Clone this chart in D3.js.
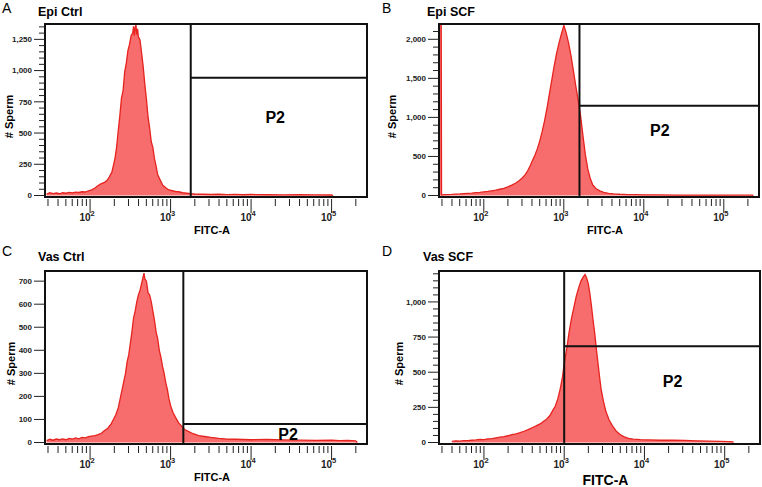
<!DOCTYPE html>
<html><head><meta charset="utf-8">
<script src="https://cdn.jsdelivr.net/npm/d3@7"></script>
<style>body{margin:0;background:#fff}</style>
</head><body>
<svg id="chart" width="762" height="487"></svg>
<script>
// ---- data: [log10(FITC-A), # sperm] ----
const epiCtrl = [[1.46,12],[1.50,22],[1.54,15],[1.58,20],[1.62,14],[1.66,22],[1.70,18],[1.74,25],[1.78,20],[1.82,27],[1.86,24],[1.90,30],[1.94,28],[1.98,38],[2.02,45],[2.06,60],[2.10,80],[2.14,95],[2.18,105],[2.21,120],[2.24,150],[2.27,185],[2.29,240],[2.31,300],[2.33,390],[2.35,520],[2.37,640],[2.39,780],[2.41,840],[2.43,990],[2.45,1060],[2.47,1160],[2.49,1210],[2.51,1280],[2.53,1300],[2.54,1355],[2.55,1280],[2.56,1345],[2.57,1365],[2.58,1290],[2.59,1335],[2.60,1270],[2.62,1245],[2.64,1140],[2.66,1030],[2.68,890],[2.70,770],[2.72,630],[2.74,540],[2.76,430],[2.78,385],[2.80,295],[2.82,235],[2.84,165],[2.87,125],[2.90,85],[2.94,62],[2.98,44],[3.02,38],[3.06,32],[3.10,30],[3.15,22],[3.20,18],[3.25,14],[3.30,12],[3.40,10],[3.50,8],[3.60,10],[3.70,7],[3.80,9],[3.90,6],[4.00,8],[4.20,6],[4.40,5],[4.60,6],[4.80,5],[5.00,4],[5.02,0]];
const epiSCF = [[1.44,3000],[1.466,3000],[1.472,6],[1.50,10],[1.55,12],[1.60,14],[1.65,18],[1.70,20],[1.75,24],[1.80,28],[1.85,30],[1.90,36],[1.95,40],[2.00,46],[2.05,52],[2.10,60],[2.15,68],[2.20,80],[2.25,92],[2.30,110],[2.35,132],[2.40,160],[2.44,190],[2.48,225],[2.52,270],[2.55,320],[2.58,380],[2.61,450],[2.64,520],[2.67,600],[2.70,700],[2.73,820],[2.76,960],[2.79,1120],[2.82,1300],[2.85,1480],[2.88,1660],[2.91,1820],[2.94,1950],[2.97,2070],[2.99,2140],[3.00,2180],[3.01,2150],[3.03,2080],[3.06,1950],[3.09,1790],[3.12,1600],[3.15,1400],[3.18,1220],[3.21,1020],[3.24,760],[3.27,520],[3.30,340],[3.33,220],[3.36,140],[3.40,90],[3.45,60],[3.50,40],[3.56,28],[3.62,22],[3.70,16],[3.80,12],[3.90,10],[4.00,9],[4.20,7],[4.40,6],[4.60,6],[4.80,5],[5.00,5],[5.20,4],[5.35,4],[5.37,0]];
const vasCtrl = [[1.46,8],[1.50,14],[1.54,10],[1.58,15],[1.62,12],[1.66,16],[1.70,12],[1.74,18],[1.78,15],[1.82,20],[1.86,16],[1.90,22],[1.94,20],[1.98,25],[2.02,28],[2.06,30],[2.10,34],[2.14,40],[2.18,52],[2.22,62],[2.26,80],[2.29,100],[2.32,120],[2.35,150],[2.38,200],[2.41,250],[2.44,300],[2.46,350],[2.48,380],[2.50,430],[2.52,480],[2.54,540],[2.56,570],[2.58,610],[2.60,640],[2.62,660],[2.64,690],[2.66,720],[2.67,735],[2.68,710],[2.70,700],[2.72,650],[2.74,640],[2.76,610],[2.78,570],[2.80,530],[2.82,480],[2.84,450],[2.86,400],[2.88,370],[2.90,330],[2.92,300],[2.94,260],[2.96,230],[2.98,190],[3.00,160],[3.03,130],[3.06,110],[3.10,85],[3.14,70],[3.18,55],[3.22,48],[3.28,38],[3.35,30],[3.42,26],[3.50,22],[3.60,18],[3.70,15],[3.80,14],[3.90,13],[4.00,12],[4.20,13],[4.40,11],[4.60,10],[4.80,9],[5.00,10],[5.10,8],[5.20,9],[5.30,7],[5.32,0]];
const vasSCF = [[1.60,8],[1.65,12],[1.70,10],[1.75,14],[1.80,13],[1.85,16],[1.90,18],[1.95,22],[2.00,20],[2.05,26],[2.10,28],[2.15,33],[2.20,38],[2.25,42],[2.30,48],[2.35,56],[2.40,62],[2.45,70],[2.50,80],[2.55,92],[2.60,105],[2.65,118],[2.70,132],[2.74,150],[2.78,165],[2.82,190],[2.86,230],[2.89,260],[2.92,310],[2.95,380],[2.98,470],[3.00,560],[3.03,660],[3.06,780],[3.09,880],[3.12,960],[3.15,1040],[3.18,1100],[3.21,1150],[3.24,1180],[3.26,1195],[3.28,1170],[3.30,1130],[3.32,1060],[3.34,970],[3.36,870],[3.38,780],[3.40,670],[3.42,570],[3.44,470],[3.46,380],[3.49,290],[3.52,220],[3.56,160],[3.60,120],[3.65,80],[3.70,55],[3.75,40],[3.80,30],[3.86,24],[3.95,20],[4.05,18],[4.20,16],[4.35,17],[4.50,15],[4.65,12],[4.80,10],[4.95,8],[5.05,6],[5.10,5],[5.11,0]];

const yTicksEpiCtrl = [0,250,500,750,1000,1250];
const yTicksEpiSCF = [0,500,1000,1500,2000];
const yTicksVasCtrl = [0,100,200,300,400,500,600,700];
const yTicksVasSCF = [0,250,500,750,1000];
const xMajorTicks = [1e2,1e3,1e4,1e5];
const xTickExponents = ["2","3","4","5"];
const xMinorTicks = [30,40,50,60,70,80,90,200,300,400,500,600,700,800,900,2000,3000,4000,5000,6000,7000,8000,9000,20000,30000,40000,50000,60000,70000,80000,90000,200000];
const panelLetters = ["A","B","C","D"];
const panelTitles = ["Epi Ctrl","Epi SCF","Vas Ctrl","Vas SCF"];
const gateX = [1780,1570,1440,1000];
const gateY = [942,1149,80,684];
const yMaxes = [1373,2196,744,1220];
const yMinorSteps = [50,100,0,50];

// ---- layout ----
const FONT = "'Liberation Sans', Arial, Helvetica, sans-serif";
const layout = [
  {left:45, right:367, top:24, bottom:197, letter:[2,13], title:[38,16], ylab:9, p2:[4.30,627], xlabSize:11},
  {left:439, right:759, top:24, bottom:197, letter:[382,13], title:[427,16], ylab:392, p2:[4.20,837], xlabSize:11},
  {left:45, right:367, top:271, bottom:444, letter:[2,256], title:[38,261], ylab:11, p2:[4.46,36], xlabSize:11},
  {left:439, right:760, top:271, bottom:444, letter:[382,256], title:[423,261], ylab:399, p2:[4.35,436], xlabSize:14}
];
const datasets = [epiCtrl, epiSCF, vasCtrl, vasSCF];
const yTickSets = [yTicksEpiCtrl, yTicksEpiSCF, yTicksVasCtrl, yTicksVasSCF];

const svg = d3.select("#chart");
const defs = svg.append("defs");

layout.forEach((L, i) => {
  const g = svg.append("g");
  const x = d3.scaleLog().domain([Math.pow(10,1.44), Math.pow(10,5.44)]).range([L.left, L.right]);
  const y = d3.scaleLinear().domain([0, yMaxes[i]]).range([L.bottom - 1.5, L.top]);

  defs.append("clipPath").attr("id","clip"+i).append("rect")
    .attr("x",L.left).attr("y",L.top).attr("width",L.right-L.left).attr("height",L.bottom-L.top);

  const area = d3.area().x(d => x(Math.pow(10,d[0]))).y0(y(0)).y1(d => y(d[1]));
  const line = d3.line().x(d => x(Math.pow(10,d[0]))).y(d => y(d[1]));
  const hg = g.append("g").attr("clip-path","url(#clip"+i+")");
  hg.append("path").datum(datasets[i]).attr("d",area).attr("fill","#f76c6c");
  hg.append("path").datum(datasets[i]).attr("d",line).attr("fill","none").attr("stroke","#e5231f").attr("stroke-width",1.3);

  // box
  g.append("rect").attr("x",L.left).attr("y",L.top).attr("width",L.right-L.left).attr("height",L.bottom-L.top)
    .attr("fill","none").attr("stroke","#111").attr("stroke-width",2);

  // gate lines
  const gx = x(gateX[i]), gy = y(gateY[i]);
  g.append("line").attr("x1",gx).attr("x2",gx).attr("y1",L.top).attr("y2",L.bottom).attr("stroke","#111").attr("stroke-width",2);
  g.append("line").attr("x1",gx).attr("x2",L.right).attr("y1",gy).attr("y2",gy).attr("stroke","#111").attr("stroke-width",2);
  g.append("text").attr("x",x(Math.pow(10,L.p2[0]))).attr("y",y(L.p2[1])).attr("text-anchor","middle")
    .attr("dominant-baseline","central").attr("font-family",FONT).attr("font-weight","bold").attr("font-size",16).text("P2");

  // y axis
  const yMajor = yTickSets[i];
  if (yMinorSteps[i] > 0) {
    const minors = d3.range(0, yMaxes[i], yMinorSteps[i]).filter(v => !yMajor.includes(v));
    g.selectAll(null).data(minors).enter().append("line")
      .attr("x1",L.left-6).attr("x2",L.left).attr("y1",d=>y(d)).attr("y2",d=>y(d)).attr("stroke","#222").attr("stroke-width",1);
  }
  g.selectAll(null).data(yMajor).enter().append("line")
    .attr("x1",L.left-11).attr("x2",L.left).attr("y1",d=>y(d)).attr("y2",d=>y(d)).attr("stroke","#222").attr("stroke-width",1);
  g.selectAll(null).data(yMajor).enter().append("text")
    .attr("x",L.left-13).attr("y",d=>y(d)).attr("dy","0.35em").attr("text-anchor","end")
    .attr("font-family",FONT).attr("font-weight","bold").attr("font-size",8).attr("fill","#222")
    .text(d => d3.format(",")(d));
  g.append("text").attr("transform",`translate(${L.ylab+4},${(L.top+L.bottom)/2+6}) rotate(-90)`)
    .attr("text-anchor","middle").attr("font-family",FONT).attr("font-weight","bold").attr("font-size",11).text("# Sperm");

  // x axis
  const t0 = L.bottom + 2;
  g.selectAll(null).data(xMinorTicks).enter().append("line")
    .attr("x1",d=>x(d)).attr("x2",d=>x(d)).attr("y1",t0).attr("y2",t0+7).attr("stroke","#222").attr("stroke-width",1);
  g.selectAll(null).data(xMajorTicks).enter().append("line")
    .attr("x1",d=>x(d)).attr("x2",d=>x(d)).attr("y1",t0).attr("y2",t0+14).attr("stroke","#222").attr("stroke-width",1);
  const lbl = g.selectAll(null).data(xMajorTicks).enter().append("text")
    .attr("x",d=>x(d)-3).attr("y",L.bottom+24).attr("text-anchor","middle")
    .attr("font-family",FONT).attr("font-weight","bold").attr("font-size",10).attr("fill","#222");
  lbl.append("tspan").text("10");
  lbl.append("tspan").attr("dy",-5).attr("font-size",7.5).text((d,j)=>xTickExponents[j]);
  g.append("text").attr("x",(L.left+L.right)/2+6).attr("y",L.bottom+37 + (L.xlabSize>11?4:0)).attr("text-anchor","middle")
    .attr("font-family",FONT).attr("font-weight","bold").attr("font-size",L.xlabSize).text("FITC-A");

  // titles
  g.append("text").attr("x",L.letter[0]).attr("y",L.letter[1]).attr("font-family",FONT).attr("font-size",14).text(panelLetters[i]);
  g.append("text").attr("x",L.title[0]).attr("y",L.title[1]).attr("font-family",FONT).attr("font-weight","bold").attr("font-size",12.5).text(panelTitles[i]);
});
</script>
</body></html>
